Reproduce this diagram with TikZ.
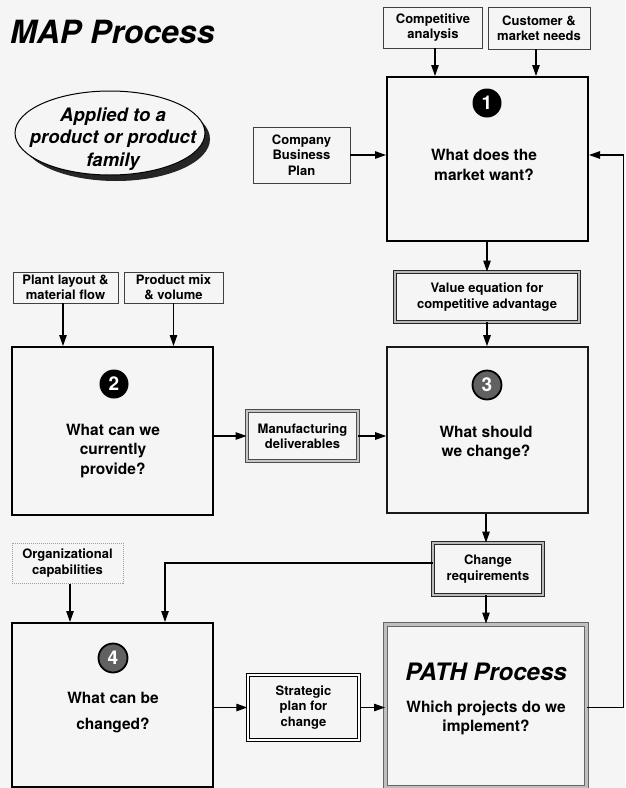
\documentclass[tikz,border=0pt]{standalone}
\usepackage{fontspec}
\setmainfont{TeX Gyre Heros}
\usetikzlibrary{arrows.meta,shapes.geometric,calc}
\definecolor{bgc}{gray}{0.96}
\begin{document}
\begin{tikzpicture}[x=1pt,y=-1pt,
  lbl/.style={font=\fontsize{13}{15.5}\selectfont\bfseries, align=center},
  thinbox/.style={draw=black!75, line width=0.9pt, inner sep=0pt},
  bigbox/.style={draw=black, line width=2pt, inner sep=0pt},
  q/.style={font=\fontsize{15.5}{19.5}\selectfont\bfseries, align=center, inner sep=0pt},
  num/.style={circle, minimum size=29pt, inner sep=0pt, fill=black, text=white, font=\fontsize{19}{19}\selectfont\bfseries},
  numg/.style={num, fill=black!62, draw=black, line width=1.8pt},
  arr/.style={line width=1.1pt, -{Triangle[length=11pt,width=7.5pt]}},
  ln/.style={line width=1.1pt},
  dbl/.style={draw=black!85, line width=0.9pt, double=gray!55, double distance=2.2pt, inner sep=0pt},
]
\fill[bgc] (0,0) rectangle (625,788);
\useasboundingbox (0,0) rectangle (625,788);

% title
\node[font=\fontsize{32}{32}\selectfont\bfseries\itshape, anchor=west, inner sep=0pt] (title) at (10,32) {MAP Process};

% ellipse
\fill[black!85] (116,139) ellipse [x radius=94, y radius=42];
\node[ellipse, draw=black, line width=1pt, fill=bgc, minimum width=190pt, minimum height=84pt, inner sep=0pt] (applied) at (110,133) {};
\node[font=\fontsize{18.5}{22.5}\selectfont\bfseries\itshape, align=center, inner sep=0pt] (appliedtxt) at (113,139) {Applied to a\\product or product\\family};

% top inputs
\node[thinbox, lbl, minimum width=99pt, minimum height=41pt] (comp) at (433,27.5) {Competitive\\analysis};
\node[thinbox, lbl, minimum width=102pt, minimum height=42pt] (cust) at (539,28) {Customer \&\\market needs};

% box 1
\node[bigbox, minimum width=201pt, minimum height=164pt] (box1) at (487.5,159) {};
\node[num] (n1) at (487,103) {1};
\node[q] (q1) at (484,165) {What does the\\market want?};

% company
\node[thinbox, lbl, minimum width=97pt, minimum height=56pt] (company) at (301.5,155) {Company\\Business\\Plan};

% left inputs
\node[thinbox, lbl, minimum width=105pt, minimum height=31pt] (plant) at (65.5,287.5) {Plant layout \&\\material flow};
\node[thinbox, lbl, minimum width=99pt, minimum height=31pt] (prodmix) at (173.5,287.5) {Product mix\\\& volume};

% value equation
\node[dbl, lbl, minimum width=184pt, minimum height=50pt] (value) at (487,297) {Value equation for\\competitive advantage};

% box 2
\node[bigbox, minimum width=201pt, minimum height=168pt] (box2) at (112.5,431) {};
\node[num] (n2) at (114,384) {2};
\node[q] (q2) at (113,451) {What can we\\currently\\provide?};

% manufacturing deliverables
\node[dbl, draw=black!70, double=gray!45, lbl, minimum width=111pt, minimum height=50pt] (manuf) at (302.5,436) {Manufacturing\\deliverables};

% box 3
\node[draw=black!90, line width=1.6pt, inner sep=0pt, minimum width=201pt, minimum height=166pt] (box3) at (487.5,430) {};
\node[numg] (n3) at (487,385) {3};
\node[q] (q3) at (486,443) {What should\\we change?};

% change requirements
\node[dbl, lbl, minimum width=110pt, minimum height=52pt] (change) at (488,569) {Change\\requirements};

% organizational capabilities
\node[draw=gray!75, densely dotted, line width=1pt, inner sep=0pt, lbl, minimum width=111pt, minimum height=40pt] (org) at (67.5,563) {Organizational\\capabilities};

% box 4
\node[bigbox, minimum width=201pt, minimum height=164pt] (box4) at (112.5,705) {};
\node[numg] (n4) at (113,658) {4};
\node[q] (q4a) at (113,698) {What can be};
\node[q] (q4b) at (113,725) {changed?};

% strategic plan
\node[draw=black, line width=1.4pt, double=white, double distance=2pt, inner sep=0pt, lbl, minimum width=111pt, minimum height=65pt] (strat) at (303.5,707.5) {Strategic\\plan for\\change};

% PATH box
\node[draw=black!60, line width=1pt, double=gray!50, double distance=3pt, inner sep=0pt, minimum width=201pt, minimum height=163pt] (path) at (486,705.5) {};
\node[font=\fontsize{24}{24}\selectfont\bfseries\itshape, inner sep=0pt] (pathtitle) at (486,672) {PATH Process};
\node[q] (q5) at (486,718) {Which projects do we\\implement?};

% connectors
\draw[arr] (comp.south -| 435,0) -- (435,0 |- box1.north);
\draw[arr] (cust.south -| 536,0) -- (536,0 |- box1.north);
\draw[arr] (company.east) -- (company.east -| box1.west);
\draw[arr] (box1.south -| value.north) -- (value.north);
\draw[arr] (value.south) -- (value.south |- box3.north);
\draw[arr] (plant.south -| 63,0) -- (63,0 |- box2.north);
\draw[arr] (prodmix.south) -- (prodmix.south |- box2.north);
\draw[arr] (manuf.west -| box2.east) -- (manuf.west);
\draw[arr] (manuf.east) -- (manuf.east -| box3.west);
\draw[arr] (box3.south -| 486,0) -- (486,0 |- change.north);
\draw[arr] (change.south -| 486,0) -- (486,0 |- path.north);
\coordinate (fbL) at (165,563);
\coordinate (chW) at ([yshift=6pt]change.west);
\draw[arr] (chW) -- (fbL) -- (fbL |- box4.north);
\draw[arr] (org.south -| 70,0) -- (70,0 |- box4.north);
\draw[arr] (box4.east |- strat.west) -- (strat.west);
\draw[arr] (strat.east) -- (strat.east -| path.west);
\coordinate (fbR) at (623.5,0);
\coordinate (pE) at ([yshift=-2pt]path.east);
\coordinate (b1E) at ([yshift=4pt]box1.east);
\draw[arr] (pE) -- (pE -| fbR) -- (fbR |- b1E) -- (b1E);
\end{tikzpicture}
\end{document}
